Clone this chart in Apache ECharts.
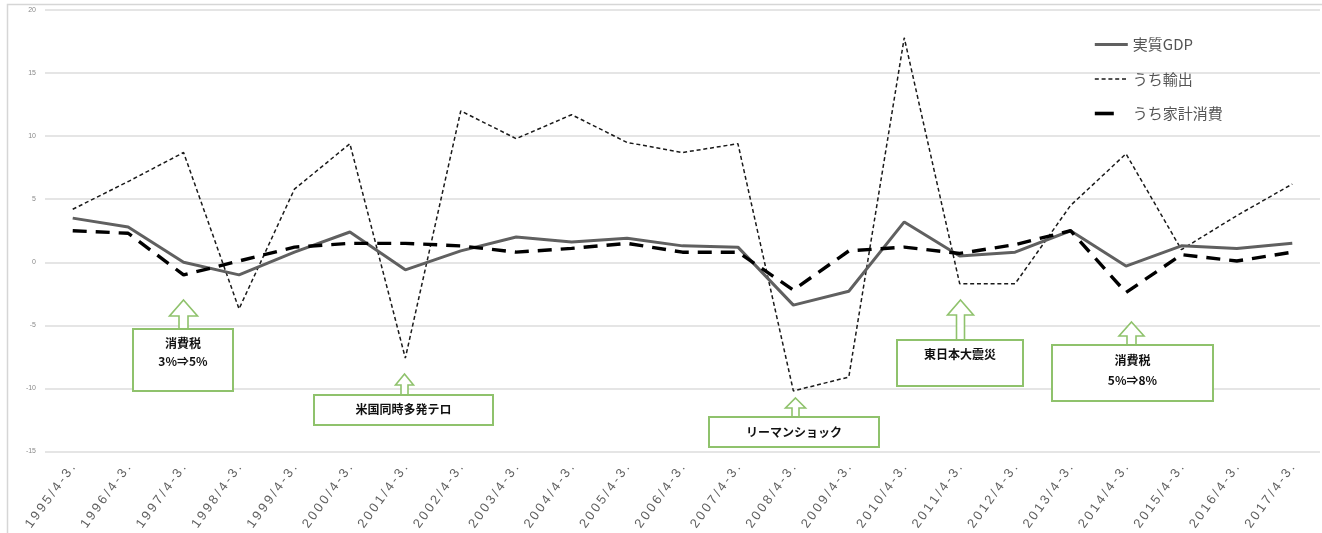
<!DOCTYPE html>
<html>
<head>
<meta charset="utf-8">
<script src="https://cdn.jsdelivr.net/npm/echarts@6/dist/echarts.min.js"></script>
<style>
  html, body { margin: 0; padding: 0; background: #ffffff; }
  #chart { width: 1322px; height: 533px; }
</style>
</head>
<body>
<div id="chart"></div>
<script>
// Fiscal years (April to March)
const categories = [
  '1995/4-3.', '1996/4-3.', '1997/4-3.', '1998/4-3.', '1999/4-3.', '2000/4-3.',
  '2001/4-3.', '2002/4-3.', '2003/4-3.', '2004/4-3.', '2005/4-3.', '2006/4-3.',
  '2007/4-3.', '2008/4-3.', '2009/4-3.', '2010/4-3.', '2011/4-3.', '2012/4-3.',
  '2013/4-3.', '2014/4-3.', '2015/4-3.', '2016/4-3.', '2017/4-3.'
];

// Year-on-year growth, %
const realGdp = [3.5, 2.8, 0.0, -1.0, 0.8, 2.4, -0.6, 0.9, 2.0, 1.6, 1.9, 1.3,
                 1.2, -3.4, -2.3, 3.2, 0.5, 0.8, 2.5, -0.3, 1.3, 1.1, 1.5];
const exportsGrowth = [4.2, 6.4, 8.7, -3.7, 5.8, 9.4, -7.6, 12.0, 9.8, 11.7, 9.5, 8.7,
                       9.4, -10.2, -9.1, 17.8, -1.7, -1.7, 4.5, 8.6, 1.0, 3.7, 6.2];
const householdConsumption = [2.5, 2.3, -1.0, 0.1, 1.2, 1.5, 1.5, 1.3, 0.8, 1.1, 1.5, 0.8,
                              0.8, -2.2, 0.9, 1.2, 0.7, 1.4, 2.5, -2.4, 0.6, 0.1, 0.8];

const seriesNames = ['実質GDP', 'うち輸出', 'うち家計消費'];

// Value axis ticks
const yMin = -15, yMax = 20, yStep = 5;

// Event notes shown below the lines
const eventNotes = [
  ['消費税', '3%⇒5%'],
  ['米国同時多発テロ'],
  ['リーマンショック'],
  ['東日本大震災'],
  ['消費税', '5%⇒8%']
];

// Placement of each note: box corners, arrow tip and head base
const noteLayout = [
  { x0: 133, y0: 329, x1: 233, y1: 391, cx: 183.5, tip: 300, head: 316, hw: 14, sw: 4.5, ty: [343, 361] },
  { x0: 314, y0: 395, x1: 493, y1: 425, cx: 404.5, tip: 374, head: 385, hw: 9, sw: 3.5, ty: [409] },
  { x0: 709, y0: 417, x1: 879, y1: 447, cx: 795.5, tip: 398, head: 408, hw: 10, sw: 3.5, ty: [432] },
  { x0: 897, y0: 340, x1: 1023, y1: 386, cx: 960.5, tip: 300, head: 315, hw: 13, sw: 4, ty: [354] },
  { x0: 1052, y0: 345, x1: 1213, y1: 401, cx: 1131.5, tip: 322, head: 336, hw: 12.5, sw: 4.5, ty: [360, 380] }
];

const noteGreen = '#8fc26c';
const cjkFont = '"Noto Sans CJK JP", "Noto Sans", sans-serif';

const gdpStyle = { color: '#606060', width: 3 };
const exportsStyle = { color: '#1a1a1a', width: 1.5, type: [4, 2.8] };
const consumptionStyle = { color: '#000000', width: 3.4, type: [14, 9] };

function noteGraphics() {
  const out = [];
  noteLayout.forEach((b, i) => {
    out.push({
      type: 'polygon',
      z: 10,
      shape: {
        points: [
          [b.cx, b.tip], [b.cx + b.hw, b.head], [b.cx + b.sw, b.head], [b.cx + b.sw, b.y0],
          [b.cx - b.sw, b.y0], [b.cx - b.sw, b.head], [b.cx - b.hw, b.head]
        ]
      },
      style: { fill: '#ffffff', stroke: noteGreen, lineWidth: 1.6 }
    });
    out.push({
      type: 'rect',
      z: 10,
      shape: { x: b.x0, y: b.y0, width: b.x1 - b.x0, height: b.y1 - b.y0 },
      style: { fill: '#ffffff', stroke: noteGreen, lineWidth: 2 }
    });
    eventNotes[i].forEach((line, k) => {
      out.push({
        type: 'text',
        z: 11,
        x: (b.x0 + b.x1) / 2,
        y: b.ty[k],
        style: {
          text: line,
          fill: '#111111',
          font: 'bold 12px ' + cjkFont,
          align: 'center',
          verticalAlign: 'middle'
        }
      });
    });
  });
  return out;
}

// Spread the characters of a category label a little
function spacedLabel(v) {
  return v.split('').join('\u2009');
}

const chart = echarts.init(document.getElementById('chart'), null, { renderer: 'canvas' });

chart.setOption({
  backgroundColor: '#ffffff',
  animation: false,
  grid: { left: 45, right: 2, top: 10, bottom: 80, containLabel: false },
  legend: {
    orient: 'vertical',
    left: 1088,
    top: 32,
    itemWidth: 33,
    itemHeight: 14,
    itemGap: 19.5,
    itemStyle: { opacity: 0 },
    textStyle: { fontFamily: cjkFont, fontSize: 15, color: '#555555' },
    data: [
      { name: seriesNames[0], lineStyle: { width: 3 } },
      { name: seriesNames[1], lineStyle: { width: 1.6 } },
      { name: seriesNames[2], lineStyle: { width: 3.6, type: [19, 40] } }
    ]
  },
  xAxis: {
    type: 'category',
    data: categories,
    boundaryGap: true,
    axisLine: { show: false },
    axisTick: { show: false },
    splitLine: { show: false },
    axisLabel: {
      interval: 0,
      rotate: 54,
      margin: 14,
      fontSize: 13,
      fontFamily: '"Liberation Sans", Arial, sans-serif',
      color: '#5f5f5f',
      formatter: spacedLabel
    }
  },
  yAxis: {
    type: 'value',
    min: yMin,
    max: yMax,
    interval: yStep,
    axisLine: { show: false },
    axisTick: { show: false },
    axisLabel: { fontSize: 7, color: '#8a8a8a', margin: 9 },
    splitLine: { lineStyle: { color: '#dcdcdc', width: 1.6 } }
  },
  series: [
    {
      name: seriesNames[0],
      type: 'line',
      data: realGdp,
      symbol: 'none',
      z: 4,
      lineStyle: gdpStyle,
      itemStyle: { color: gdpStyle.color }
    },
    {
      name: seriesNames[1],
      type: 'line',
      data: exportsGrowth,
      symbol: 'none',
      z: 3,
      lineStyle: exportsStyle,
      itemStyle: { color: exportsStyle.color }
    },
    {
      name: seriesNames[2],
      type: 'line',
      data: householdConsumption,
      symbol: 'none',
      z: 5,
      lineStyle: consumptionStyle,
      itemStyle: { color: consumptionStyle.color }
    }
  ],
  graphic: [
    {
      type: 'rect',
      z: 0,
      silent: true,
      shape: { x: 7.5, y: 4.5, width: 1340, height: 560 },
      style: { fill: 'none', stroke: '#d6d6d6', lineWidth: 1.5 }
    }
  ].concat(noteGraphics())
});
</script>
</body>
</html>
